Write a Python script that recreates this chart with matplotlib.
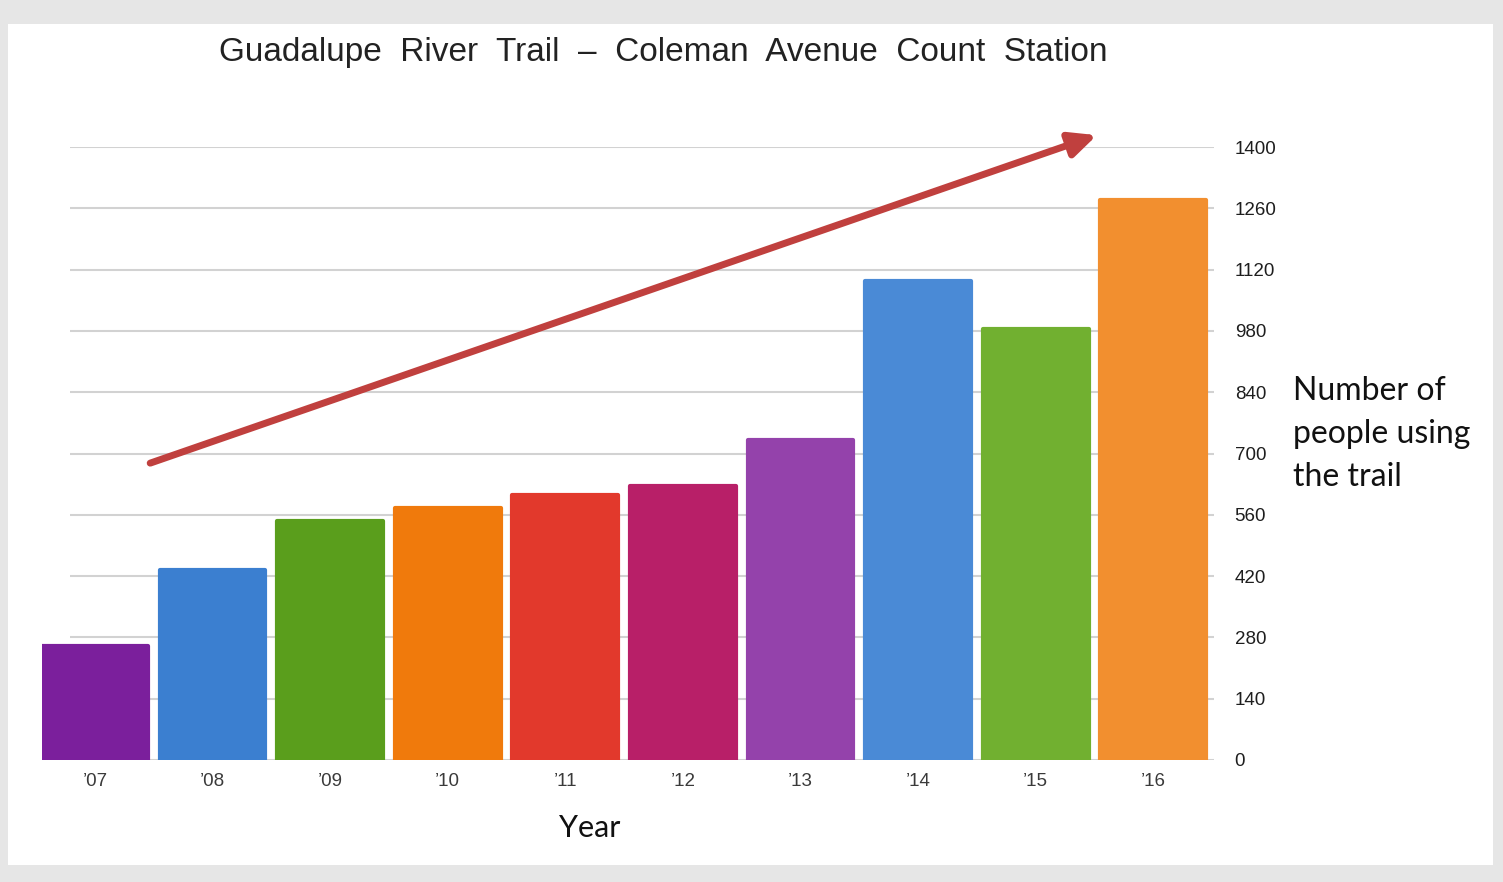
import matplotlib.pyplot as plt
from matplotlib.patches import Rectangle

# data
years = ["’07", "’08", "’09", "’10", "’11", "’12", "’13", "’14", "’15", "’16"]
counts = [260, 435, 545, 575, 605, 625, 730, 1095, 985, 1280]
bar_colors = ["#7b1f9c", "#3b7fd0", "#5a9e1c", "#f07a0c", "#e2392c",
              "#b81f68", "#9442ab", "#4a8ad6", "#71b030", "#f28f2f"]
y_ticks = [0, 140, 280, 420, 560, 700, 840, 980, 1120, 1260, 1400]

fig = plt.figure(figsize=(15.03, 8.82), dpi=100, facecolor="#e6e6e6")

# white panel inside the gray border (behind everything)
fig.patches.append(Rectangle((8 / 1503, 17 / 882), 1485 / 1503, 841 / 882,
                             transform=fig.transFigure, facecolor="white",
                             edgecolor="none", zorder=-10))

ax = fig.add_axes([42 / 1503, 122 / 882, (1218 - 42) / 1503, (760 - 147) / 882])
ax.set_facecolor("none")

x = list(range(len(years)))
ax.set_xlim(-0.45, 9.55)
ax.set_ylim(0, 1400)

# gridlines, start a bit right of the first bar
ax.hlines(y_ticks, -0.21, 9.52, colors="#d2d2d2", linewidth=1.5, zorder=1)

bars = ax.bar(x, counts, width=0.90, color=bar_colors, edgecolor=bar_colors,
              linewidth=3, zorder=2)
for b in bars:
    b.set_joinstyle("round")

for s in ax.spines.values():
    s.set_visible(False)

ax.yaxis.tick_right()
ax.set_yticks(y_ticks)
ax.set_yticklabels([str(v) for v in y_ticks], fontsize=13.5, color="#1e1e1e",
                   family="Liberation Sans")
ax.tick_params(axis="y", length=0, pad=12)
ax.set_xticks(x)
ax.set_xticklabels(years, fontsize=13.5, color="#3a3a3a", family="Liberation Sans")
ax.tick_params(axis="x", length=0, pad=9)

# trend arrow
ax.annotate("", xy=(8.52, 1427), xytext=(0.47, 678),
            arrowprops=dict(arrowstyle="-|>,head_length=1.6,head_width=0.75",
                            color="#c0403e", linewidth=5, shrinkA=0, shrinkB=0),
            annotation_clip=False, zorder=3)

fig.text(663 / 1503, 1 - 53 / 882,
         "Guadalupe  River  Trail  –  Coleman  Avenue  Count  Station",
         ha="center", va="center", fontsize=24, color="#222222", family="Liberation Sans")
fig.text(590 / 1503, 1 - 828 / 882, "Year", ha="center", va="center",
         fontsize=22, color="#111111", family="Lato")
fig.text(1293 / 1503, 1 - 434 / 882, "Number of\npeople using\nthe trail",
         ha="left", va="center", fontsize=23, color="#111111", family="Lato",
         linespacing=1.55)

fig.savefig("out.png", dpi=100, facecolor=fig.get_facecolor())
